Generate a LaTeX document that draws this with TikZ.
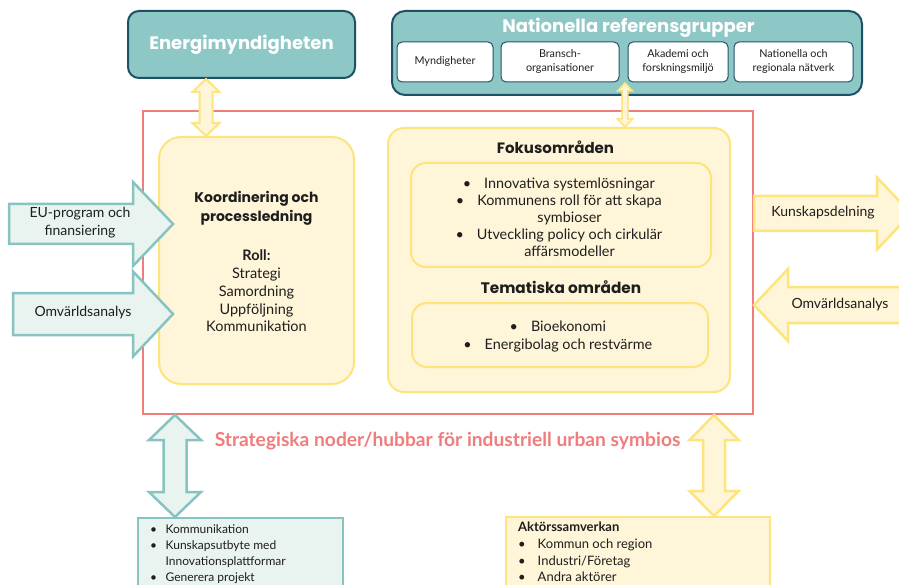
\documentclass[tikz,border=0pt]{standalone}
\usepackage{fontspec}
\setmainfont{Lato}
\newfontfamily\headfont{Poppins}
\usetikzlibrary{calc, positioning}
\definecolor{tealFill}{HTML}{8EC8C6}
\definecolor{tealDark}{HTML}{1D5266}
\definecolor{tealLine}{HTML}{86C3C1}
\definecolor{tealPale}{HTML}{E9F4F0}
\definecolor{yelFill}{HTML}{FFF5D8}
\definecolor{yelLine}{HTML}{FDE47D}
\definecolor{redLine}{HTML}{F07C7C}
\definecolor{textdark}{HTML}{1E1E1E}

% block arrow: tail, tip, half shaft, half head, head length
\newcommand{\blockarrow}[6][]{%
  \draw[#1] let \p1=(#2), \p2=(#3), \p3=($(#3)!#6!(#2)$) in
    (\x1,\y1+#4) -- (\x3,\y1+#4) -- (\x3,\y1+#5) -- (\x2,\y2)
    -- (\x3,\y1-#5) -- (\x3,\y1-#4) -- (\x1,\y1-#4) -- cycle;}
% vertical double arrow: top tip, bottom tip, half shaft, half head, head length
\newcommand{\dblarrow}[6][]{%
  \draw[#1] let \p1=(#2), \p2=(#3) in
    (\x1,\y1) -- (\x1+#5,\y1-#6) -- (\x1+#4,\y1-#6) -- (\x1+#4,\y2+#6)
    -- (\x1+#5,\y2+#6) -- (\x1,\y2) -- (\x1-#5,\y2+#6) -- (\x1-#4,\y2+#6)
    -- (\x1-#4,\y1-#6) -- (\x1-#5,\y1-#6) -- cycle;}

\begin{document}
\begin{tikzpicture}[
    x=1pt, y=-1pt,
    font=\fontsize{14}{17.5}\selectfont,
    text=textdark,
    topbox/.style={draw=tealDark, fill=tealFill, line width=2pt, rounded corners=11pt},
    headtxt/.style={text=white, font=\headfont\bfseries\fontsize{18}{20}\selectfont},
    subbox/.style={draw=tealDark, fill=white, line width=1pt, rounded corners=5pt,
        align=center, minimum height=40, inner sep=0pt, font=\fontsize{10.8}{14}\selectfont},
    yelbox/.style={draw=yelLine, fill=yelFill, line width=2pt},
    boxtitle/.style={font=\headfont\bfseries\fontsize{15.3}{19}\selectfont},
    tealarrow/.style={draw=tealLine, fill=tealPale, line width=2.5pt},
    yelarrow/.style={draw=yelLine, fill=yelFill, line width=2.5pt},
    arrowtxt/.style={align=center, font=\fontsize{14}{18}\selectfont}
]
\useasboundingbox (0,0) rectangle (899,585);
\clip (0,0) rectangle (899,585);
\fill[white] (0,0) rectangle (899,585);

% --- hub frame ---
\node[draw=redLine, line width=2pt, minimum width=610, minimum height=303] (hub) at (448,262.5) {};
\node[text=redLine, font=\bfseries\fontsize{19.2}{21}\selectfont] (hubtxt) at (447.5,441)
    {Strategiska noder/hubbar för industriell urban symbios};

% --- coordination box ---
\node[yelbox, rounded corners=22pt, minimum width=195, minimum height=247] (koord) at (256.5,260.5) {};
\node[align=center, font=\headfont\bfseries\fontsize{14}{19}\selectfont] (koordtitle) at (256.5,208)
    {Koordinering och\\processledning};
\node[align=center, font=\fontsize{14.5}{17.8}\selectfont] (roll) at (256.5,291)
    {\textbf{Roll:}\\Strategi\\Samordning\\Uppföljning\\Kommunikation};

% --- focus areas ---
\node[yelbox, rounded corners=16pt, minimum width=342, minimum height=264] (fokus) at (559,260) {};
\node[boxtitle, font=\headfont\bfseries\fontsize{15}{19}\selectfont] (fokustitle) at (555.5,147) {Fokusområden};
\node[yelbox, rounded corners=15pt, minimum width=300, minimum height=104] (fokusin) at (561,215) {};
\node[align=center, font=\fontsize{14.4}{17}\selectfont] (fokuslist) at (569.5,217)
    {\llap{\textbullet\hspace{13pt}}Innovativa systemlösningar\\
     \llap{\textbullet\hspace{13pt}}Kommunens roll för att skapa\\symbioser\\
     \llap{\textbullet\hspace{13pt}}Utveckling policy och cirkulär\\affärsmodeller};
\node[boxtitle] (tematitle) at (561,287) {Tematiska områden};
\node[yelbox, rounded corners=15pt, minimum width=296, minimum height=64] (temain) at (560,335) {};
\node[align=center, font=\fontsize{14.4}{18}\selectfont] (temalist) at (568.5,337)
    {\llap{\textbullet\hspace{13pt}}Bioekonomi\\
     \llap{\textbullet\hspace{13pt}}Energibolag och restvärme};

% --- top boxes ---
\node[topbox, minimum width=227, minimum height=67] (energi) at (241.5,44.5) {};
\node[headtxt] (energitxt) at (241.5,45) {Energimyndigheten};
\node[topbox, rounded corners=13pt, minimum width=470, minimum height=84] (nat) at (627,53) {};
\node[headtxt] (nattxt) at (628.5,28) {Nationella referensgrupper};
\node[subbox, minimum width=96] (myn) at (445,62) {Myndigheter};
\node[subbox, minimum width=118] (bransch) at (560,62) {Bransch-\\organisationer};
\node[subbox, minimum width=100] (akademi) at (678,62) {Akademi och\\forskningsmiljö};
\node[subbox, minimum width=119] (natverk) at (793.5,62) {Nationella och\\regionala nätverk};

% --- bottom boxes ---
\node[draw=tealLine, fill=tealPale, line width=2pt, minimum width=205, minimum height=90] (komm) at (240.5,563) {};
\node[anchor=north west, inner sep=0pt, font=\fontsize{12}{16}\selectfont] (kommlist) at (150,522)
    {\begin{tabular}{@{}l@{\hspace{8.5pt}}l@{}}
     \textbullet & Kommunikation\\
     \textbullet & Kunskapsutbyte med\\
                 & Innovationsplattformar\\
     \textbullet & Generera projekt
     \end{tabular}};
\node[yelbox, minimum width=264, minimum height=90] (aktor) at (638,562) {};
\node[anchor=north west, inner sep=0pt, font=\fontsize{13}{16.6}\selectfont] (aktorlist) at (518,520)
    {\begin{tabular}{@{}l@{\hspace{12pt}}l@{}}
     \multicolumn{2}{@{}l}{\textbf{Aktörssamverkan}}\\
     \textbullet & Kommun och region\\
     \textbullet & Industri/Företag\\
     \textbullet & Andra aktörer
     \end{tabular}};

% --- arrows ---
\coordinate (xe) at (206,0);
\coordinate (xn) at (625,83);
\coordinate (xl) at (175,0);
\coordinate (xr) at (714,0);
\dblarrow[yelarrow, line width=2pt]{energi.south -| xe}{koord.north -| xe}{6.5pt}{13.5pt}{13pt}
\dblarrow[yelarrow, line width=1.5pt]{xn}{fokus.north -| xn}{2.8pt}{7.5pt}{8pt}
\dblarrow[tealarrow]{hub.south -| xl}{komm.north -| xl}{11.5pt}{26pt}{25pt}
\dblarrow[yelarrow]{hub.south -| xr}{aktor.north -| xr}{11pt}{24.5pt}{25pt}

\coordinate (eutail) at (9,224);
\coordinate (eutip) at (173,224);
\blockarrow[tealarrow]{eutail}{eutip}{20pt}{42pt}{40pt}
\node[arrowtxt] (eutxt) at (80,223) {EU-program och\\finansiering};
\coordinate (omvtail) at (13,314);
\coordinate (omvtip) at (173,314);
\blockarrow[tealarrow]{omvtail}{omvtip}{21pt}{42.5pt}{40pt}
\node[arrowtxt] (omvtxt) at (83,313) {Omvärldsanalys};

\coordinate (kdtip) at (911,213.5);
\blockarrow[yelarrow]{hub.east |- kdtip}{kdtip}{17.5pt}{36pt}{34pt}
\node[arrowtxt] (kdtxt) at (823,213) {Kunskapsdelning};
\coordinate (omrtail) at (915,305);
\blockarrow[yelarrow]{omrtail}{hub.east |- omrtail}{18pt}{36pt}{34pt}
\node[arrowtxt] (omrtxt) at (840,305) {Omvärldsanalys};

\end{tikzpicture}
\end{document}
